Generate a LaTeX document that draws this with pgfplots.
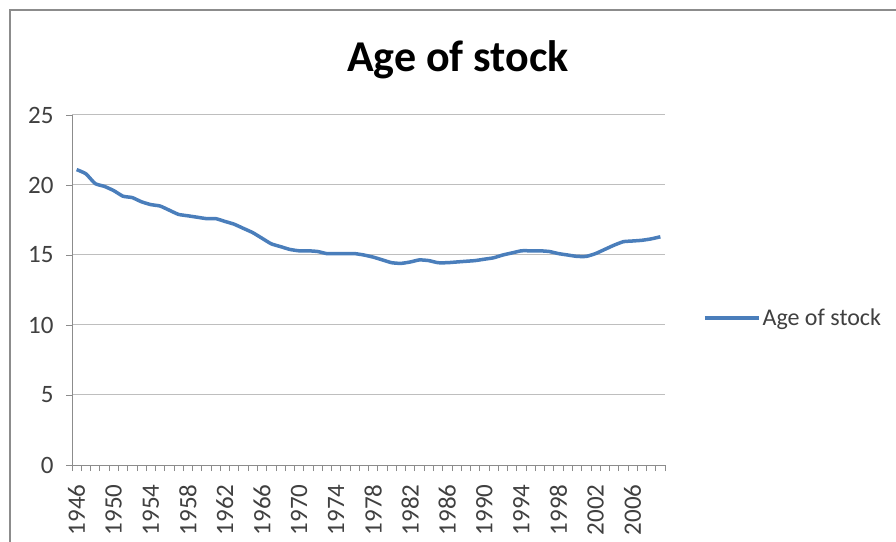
\documentclass[border=0pt]{standalone}
\usepackage{pgfplots}
\pgfplotsset{compat=1.18}
\usepackage{fontspec}
\setmainfont{Carlito}
\definecolor{exblue}{HTML}{4A7EBB}
\definecolor{gridc}{HTML}{BEBEBE}
\definecolor{axc}{HTML}{8C8C8C}
\definecolor{txt}{HTML}{404040}
\begin{document}
\begin{tikzpicture}
\useasboundingbox (0,0) rectangle (896bp,542bp);
\fill[white] (0,0) rectangle (896bp,542bp);
\draw[axc, line width=2bp] (10bp,0) -- (10bp,532bp) -- (896bp,532bp);
\node[anchor=base, font=\fontsize{44bp}{48bp}\selectfont\bfseries] at (458bp,470bp) {Age of stock};
\begin{axis}[
  at={(72bp,77bp)}, anchor=south west,
  scale only axis, width=593bp, height=350bp,
  xmin=1945.5, xmax=2009.5, ymin=0, ymax=25,
  axis x line=bottom, axis y line=left,
  axis line style={-, axc, line width=0.8bp},
  xtick={1946,1950,...,2006},
  major x tick style={draw=none},
  minor xtick={1945.5,1946.5,...,2009.5},
  minor x tick style={axc, line width=0.6bp},
  minor tick length=6bp,
  ytick={0,5,...,25},
  major y tick style={axc, line width=0.8bp},
  major tick length=6bp,
  tick align=outside,
  ymajorgrids, grid style={gridc, line width=1bp},
  /pgf/number format/assume math mode=true,
  xticklabel={\pgfmathprintnumber[1000 sep={}]{\tick}},
  xticklabel style={yshift=-10bp, rotate=90, anchor=east, text=txt, font=\fontsize{25bp}{28bp}\selectfont},
  yticklabel style={xshift=-9bp, text=txt, font=\fontsize{25bp}{28bp}\selectfont},
  legend style={draw=none, fill=none, at={(1.064,0.42)}, anchor=west, inner xsep=0pt,
    text=txt, font=\fontsize{24bp}{28bp}\selectfont},
  legend cell align=left,
  legend image code/.code={\draw[#1] (0bp,0bp) -- (54bp,0bp);},
]
\addplot[exblue, line width=3.5bp, line join=round, smooth, tension=0.3] coordinates {
(1946,21.1) (1947,20.8) (1948,20.1) (1949,19.9) (1950,19.6) (1951,19.2) (1952,19.1) (1953,18.8)
(1954,18.6) (1955,18.5) (1956,18.2) (1957,17.9) (1958,17.8) (1959,17.7) (1960,17.6) (1961,17.6)
(1962,17.4) (1963,17.2) (1964,16.9) (1965,16.6) (1966,16.2) (1967,15.8) (1968,15.6) (1969,15.4)
(1970,15.3) (1971,15.3) (1972,15.25) (1973,15.1) (1974,15.1) (1975,15.1) (1976,15.1) (1977,15.0)
(1978,14.85) (1979,14.65) (1980,14.45) (1981,14.4) (1982,14.5) (1983,14.65) (1984,14.6) (1985,14.45)
(1986,14.45) (1987,14.5) (1988,14.55) (1989,14.6) (1990,14.7) (1991,14.8) (1992,15.0) (1993,15.15)
(1994,15.3) (1995,15.3) (1996,15.3) (1997,15.25) (1998,15.1) (1999,15.0) (2000,14.9) (2001,14.9)
(2002,15.1) (2003,15.4) (2004,15.7) (2005,15.95) (2006,16.0) (2007,16.05) (2008,16.15) (2009,16.3)
};
\addlegendentry{Age of stock}
\end{axis}
\end{tikzpicture}
\end{document}
